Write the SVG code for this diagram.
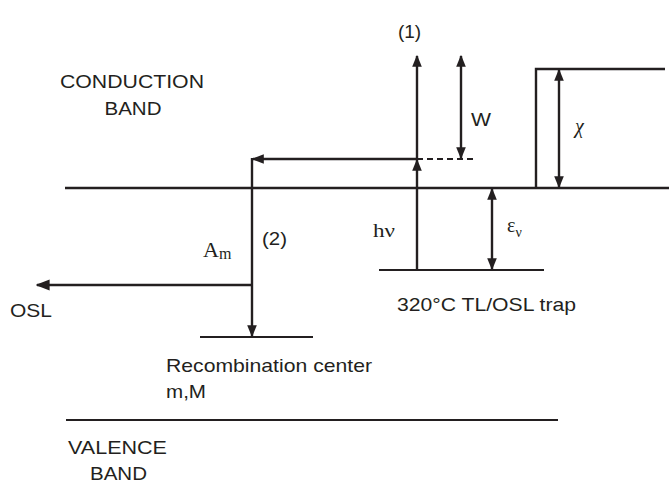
<svg xmlns="http://www.w3.org/2000/svg" width="669" height="491" viewBox="0 0 669 491">
<style>
.ln{stroke:#231f20;fill:none;stroke-width:2.4}
.lv{stroke:#231f20;fill:none;stroke-width:2}
.ar{stroke:#231f20;fill:none;stroke-width:2.4}
.sa{font-family:"Liberation Sans",Arial,sans-serif;font-size:19px;fill:#231f20}
.se{font-family:"Liberation Serif","Times New Roman",serif;fill:#231f20}
</style>
<defs>
<marker id="ah" markerUnits="userSpaceOnUse" markerWidth="12" markerHeight="10" refX="9" refY="4" orient="auto-start-reverse" viewBox="0 0 10 8">
<path d="M0,0 L10,4 L0,8 z" fill="#231f20"/>
</marker>
<marker id="ahb" markerUnits="userSpaceOnUse" markerWidth="14" markerHeight="12" refX="9" refY="4" orient="auto-start-reverse" viewBox="0 0 10 8">
<path d="M0,0 L10,4 L0,8 z" fill="#231f20"/>
</marker>
</defs>
<rect width="669" height="491" fill="#fff"/>

<g id="conduction-band">
<path class="ln" d="M65,188 H669"/>
<path class="ln" d="M536,188 V69 H665"/>
<text class="sa" x="132" y="88" text-anchor="middle" textLength="144" lengthAdjust="spacingAndGlyphs">CONDUCTION</text>
<text class="sa" x="133" y="115" text-anchor="middle" textLength="57" lengthAdjust="spacingAndGlyphs">BAND</text>
</g>

<g id="valence-band">
<path class="lv" d="M66,420 H558"/>
<text class="sa" x="68" y="454" textLength="99" lengthAdjust="spacingAndGlyphs">VALENCE</text>
<text class="sa" x="90" y="480" textLength="57" lengthAdjust="spacingAndGlyphs">BAND</text>
</g>

<g id="trap">
<path class="lv" d="M379,270 H544"/>
<text class="sa" x="397" y="311" textLength="179" lengthAdjust="spacingAndGlyphs">320°C TL/OSL trap</text>
</g>

<g id="recombination-center">
<path class="lv" d="M200,337 H313"/>
<text class="sa" x="166" y="372" textLength="206" lengthAdjust="spacingAndGlyphs">Recombination center</text>
<text class="sa" x="166" y="398" textLength="40" lengthAdjust="spacingAndGlyphs">m,M</text>
</g>

<g id="connectors">
<path class="ar" d="M417,270 V160" marker-end="url(#ah)"/>
<path class="ar" d="M417,160 V56" marker-end="url(#ah)"/>
<path class="ar" d="M461,56 V158" marker-start="url(#ah)" marker-end="url(#ah)"/>
<path class="ar" d="M559,70 V187" marker-start="url(#ah)" marker-end="url(#ah)"/>
<path class="ar" d="M492,189 V269" marker-start="url(#ah)" marker-end="url(#ah)"/>
<path class="lv" d="M417,159 H475" stroke-dasharray="6,4"/>
<path class="ar" d="M417,159 H253" marker-end="url(#ah)"/>
<path class="ar" d="M252,158 V336" marker-end="url(#ah)"/>
<path class="ar" d="M252,285 H37" stroke-width="3.2" marker-end="url(#ahb)"/>
</g>

<g id="labels">
<text class="sa" x="409.5" y="38" text-anchor="middle">(1)</text>
<text class="sa" x="471" y="126" textLength="20" lengthAdjust="spacingAndGlyphs">W</text>
<text class="se" x="575" y="133" font-size="20" font-style="italic">χ</text>
<text class="se" x="373" y="237" font-size="19" textLength="22" lengthAdjust="spacingAndGlyphs">hν</text>
<text class="se" x="507" y="232" font-size="20">ε<tspan font-size="14" dy="5">ν</tspan></text>
<text class="se" x="203" y="257" font-size="22">A<tspan font-size="16" dy="2">m</tspan></text>
<text class="sa" x="262" y="245" textLength="25" lengthAdjust="spacingAndGlyphs">(2)</text>
<text class="sa" x="10" y="317" textLength="42" lengthAdjust="spacingAndGlyphs">OSL</text>
</g>
</svg>
